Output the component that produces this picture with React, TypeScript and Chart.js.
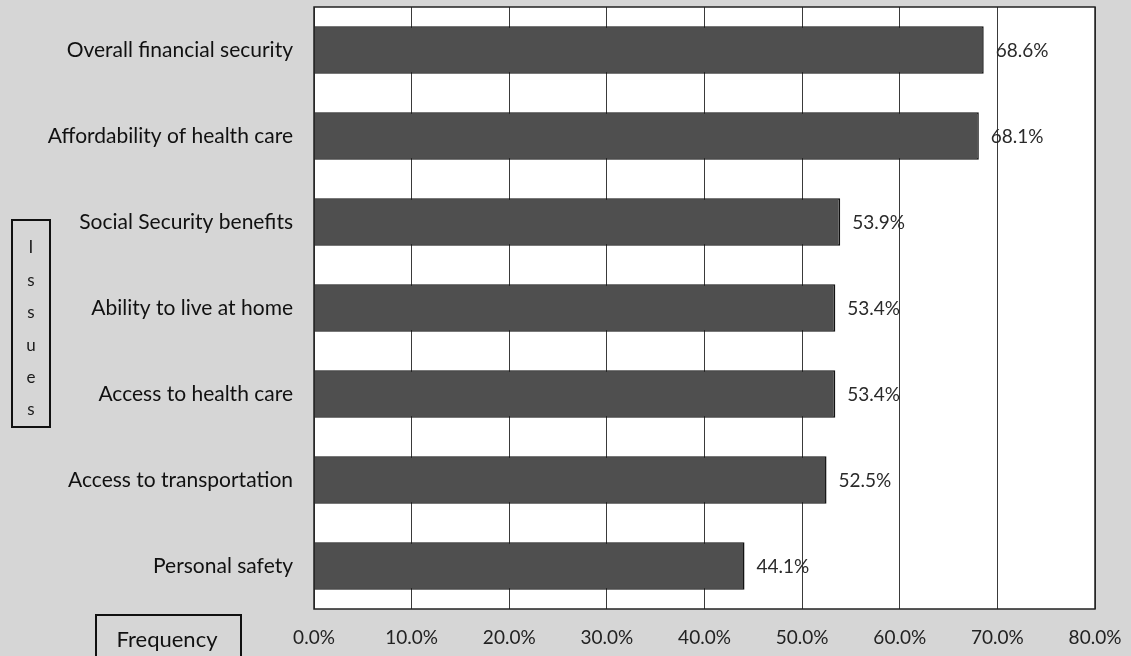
import React, { useEffect, useRef } from "react";
import { Chart, registerables } from "chart.js";

Chart.register(...registerables);

const categories = [
  "Overall financial security",
  "Affordability of health care",
  "Social Security benefits",
  "Ability to live at home",
  "Access to health care",
  "Access to transportation",
  "Personal safety",
];
const values = [68.6, 68.1, 53.9, 53.4, 53.4, 52.5, 44.1];
const xTicks = [0, 10, 20, 30, 40, 50, 60, 70, 80];
const yTitle = "Issues";
const xTitle = "Frequency";

const FONT = "Lato, 'Open Sans', sans-serif";

const W = 1131;
const H = 656;
const PLOT_L = 314;
const PLOT_R = 1095;
const PLOT_T = 7;
const PLOT_B = 609;

const decorPlugin = {
  id: "decor",
  beforeDraw(chart: any) {
    const { ctx, chartArea } = chart;
    ctx.save();
    ctx.fillStyle = "#d6d6d6";
    ctx.fillRect(0, 0, chart.width, chart.height);
    ctx.fillStyle = "#ffffff";
    ctx.fillRect(chartArea.left, chartArea.top, chartArea.right - chartArea.left, chartArea.bottom - chartArea.top);
    ctx.restore();
  },
  afterDraw(chart: any) {
    const { ctx, chartArea } = chart;
    ctx.save();
    // plot border
    ctx.strokeStyle = "#222";
    ctx.lineWidth = 1.5;
    ctx.strokeRect(chartArea.left, chartArea.top, chartArea.right - chartArea.left, chartArea.bottom - chartArea.top);

    // data labels
    const meta = chart.getDatasetMeta(0);
    ctx.fillStyle = "#2a2a2a";
    ctx.font = `19px ${FONT}`;
    ctx.textAlign = "left";
    ctx.textBaseline = "middle";
    meta.data.forEach((bar: any, i: number) => {
      ctx.fillText(values[i].toFixed(1) + "%", bar.x + 12, bar.y + 1);
    });

    // Issues box
    ctx.strokeStyle = "#111";
    ctx.lineWidth = 2;
    ctx.strokeRect(12, 220, 38, 207);
    ctx.fillStyle = "#1a1a1a";
    ctx.font = `17px ${FONT}`;
    ctx.textAlign = "center";
    const letters = yTitle.split("");
    letters.forEach((ch, i) => {
      ctx.fillText(ch, 31, 248 + i * 32.4);
    });

    // Frequency box
    ctx.strokeRect(96, 615, 145, 48);
    ctx.font = `22px ${FONT}`;
    ctx.fillStyle = "#111";
    ctx.fillText(xTitle, 167, 640);
    ctx.restore();
  },
};

export default function App() {
  const ref = useRef<HTMLCanvasElement>(null);
  useEffect(() => {
    document.body.style.margin = "0";
    const chart = new Chart(ref.current!, {
      type: "bar",
      data: {
        labels: categories,
        datasets: [
          {
            data: values,
            backgroundColor: "#4f4f4f",
            borderColor: "#111",
            borderWidth: 1.5,
            barPercentage: 0.55,
            categoryPercentage: 1,
          },
        ],
      },
      options: {
        indexAxis: "y",
        animation: false,
        responsive: false,
        layout: { padding: { top: PLOT_T, right: W - PLOT_R, left: 0, bottom: 0 } },
        plugins: { legend: { display: false }, tooltip: { enabled: false } },
        scales: {
          x: {
            min: 0,
            max: 80,
            afterBuildTicks(scale: any) {
              scale.ticks = xTicks.map((v) => ({ value: v }));
            },
            afterFit(scale: any) {
              scale.height = H - PLOT_B;
              scale.paddingLeft = 0;
              scale.paddingRight = 0;
            },
            grid: { color: "#3a3a3a", lineWidth: 1, drawTicks: false },
            border: { display: false },
            ticks: {
              padding: 17,
              color: "#222",
              font: { family: FONT, size: 19 },
              callback: (v: any) => Number(v).toFixed(1) + "%",
            },
          },
          y: {
            afterFit(scale: any) {
              scale.width = PLOT_L;
              scale.paddingTop = 0;
              scale.paddingBottom = 0;
            },
            grid: { display: false, drawTicks: false },
            border: { display: false },
            ticks: {
              padding: 21,
              color: "#111",
              font: { family: FONT, size: 21 },
            },
          },
        },
      },
      plugins: [decorPlugin],
    });
    return () => chart.destroy();
  }, []);
  return (
    <div style={{ position: "absolute", left: 0, top: 0, width: W, height: H }}>
      <canvas ref={ref} width={W} height={H} style={{ width: W, height: H }} />
    </div>
  );
}
